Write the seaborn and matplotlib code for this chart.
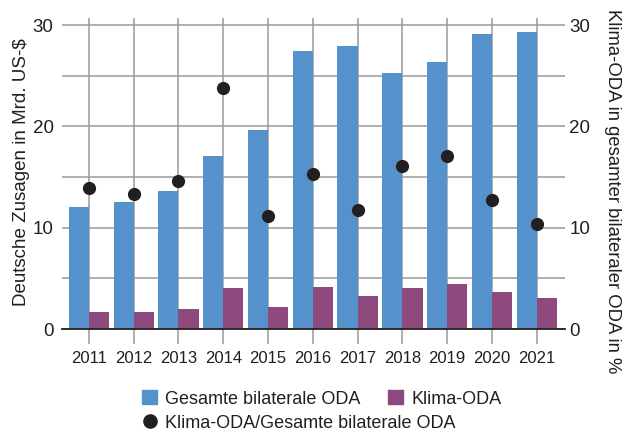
import numpy as np
import pandas as pd
import seaborn as sns
import matplotlib.pyplot as plt
from matplotlib.patches import Patch
from matplotlib.lines import Line2D

years = [str(y) for y in range(2011, 2022)]
gesamt = [12.0, 12.5, 13.6, 17.1, 19.6, 27.4, 27.9, 25.3, 26.4, 29.15, 29.35]
klima = [1.7, 1.7, 1.97, 4.08, 2.17, 4.18, 3.26, 4.08, 4.47, 3.68, 3.09]
anteil = [13.95, 13.3, 14.6, 23.8, 11.2, 15.3, 11.75, 16.1, 17.05, 12.7, 10.4]

series = ["Gesamte bilaterale ODA", "Klima-ODA"]
blue = "#5591cb"
purple = "#8e4a7c"
dark = "#231f20"
grid_c = "#9a9a9a"

df = pd.DataFrame({
    "Jahr": years * 2,
    "Wert": gesamt + klima,
    "Serie": [series[0]] * len(years) + [series[1]] * len(years),
})
df_anteil = pd.DataFrame({"Jahr": years, "Anteil": anteil})

sns.set_theme(style="white")
plt.rcParams["font.family"] = ["Liberation Sans", "DejaVu Sans"]
plt.rcParams["text.color"] = dark

fig = plt.figure(figsize=(6.27, 4.33), dpi=100)
ax = fig.add_axes([62 / 627, 1 - 329 / 433, 503 / 627, 311 / 433])

sns.barplot(data=df, x="Jahr", y="Wert", hue="Serie", palette=[blue, purple],
            width=0.9, gap=0, saturation=1, linewidth=0, legend=False, ax=ax)

ax.set_axisbelow(True)
ax.set_ylim(0, 30.7)
ax.set_xlim(-0.6, len(years) - 1 + 0.63)
ax.set_yticks([0, 10, 20, 30])
ax.set_yticks([5, 15, 25], minor=True)
ax.grid(True, which="both", axis="y", color=grid_c, lw=1.1)
ax.grid(True, axis="x", color=grid_c, lw=1.1)
ax.set_xlabel("")
ax.set_ylabel("")
for s in ["left", "right", "top"]:
    ax.spines[s].set_visible(False)
ax.spines["bottom"].set_color(dark)
ax.spines["bottom"].set_linewidth(1.3)
ax.tick_params(axis="x", length=11, width=1.1, color=grid_c, pad=5,
               labelsize=12, labelcolor=dark, bottom=True)
ax.tick_params(axis="y", which="both", length=0, pad=6, labelsize=13.5, labelcolor=dark)

ax2 = ax.twinx()
sns.stripplot(data=df_anteil, x="Jahr", y="Anteil", jitter=False, color=dark,
              size=9.5, linewidth=0, ax=ax2)
ax2.set_ylim(0, 30.7)
ax2.set_xlim(-0.6, len(years) - 1 + 0.63)
ax2.set_yticks([0, 10, 20, 30])
ax2.set_ylabel("")
ax2.set_xlabel("")
ax2.grid(False)
for s in ["left", "right", "top", "bottom"]:
    ax2.spines[s].set_visible(False)
ax2.tick_params(axis="y", length=0, pad=3, labelsize=13.5, labelcolor=dark)

fig.text(22 / 627, 1 - 172 / 433, "Deutsche Zusagen in Mrd. US-$", rotation=90,
         ha="center", va="center", fontsize=13.5)
fig.text(613 / 627, 1 - 191 / 433, "Klima-ODA in gesamter bilateraler ODA in %",
         rotation=270, ha="center", va="center", fontsize=13.3)

h1 = [Patch(color=blue, label=series[0]), Patch(color=purple, label=series[1])]
fig.legend(handles=h1, loc="center left", bbox_to_anchor=(142 / 627, 1 - 399 / 433),
           ncol=2, frameon=False, fontsize=13, handlelength=0.85, handleheight=0.8,
           handletextpad=0.45, columnspacing=1.5, borderpad=0, borderaxespad=0)
h2 = [Line2D([], [], marker="o", ls="none", color=dark, markersize=9.5,
             label="Klima-ODA/Gesamte bilaterale ODA")]
fig.legend(handles=h2, loc="center left", bbox_to_anchor=(142 / 627, 1 - 423 / 433),
           frameon=False, fontsize=13, handlelength=0.85, handletextpad=0.45,
           borderpad=0, borderaxespad=0)

fig.savefig("out.png", dpi=100)
